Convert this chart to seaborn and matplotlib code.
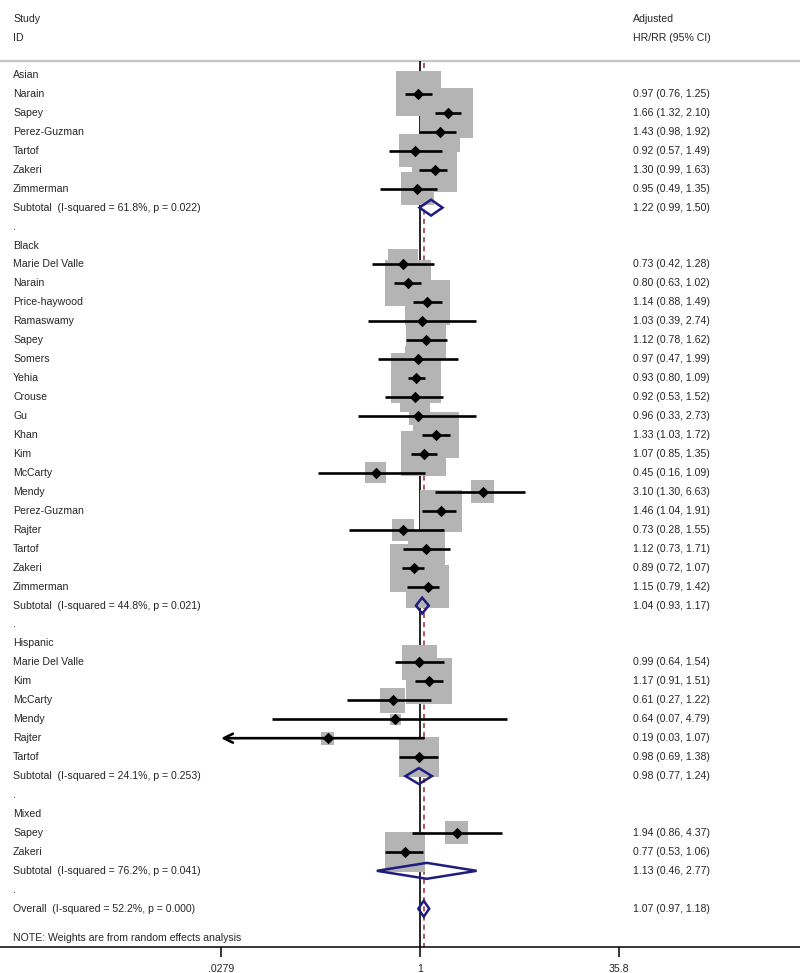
import numpy as np
import pandas as pd
import matplotlib
matplotlib.use("Agg")
import matplotlib.pyplot as plt
import seaborn as sns
from matplotlib.transforms import blended_transform_factory
from matplotlib.ticker import NullLocator

# Данные: исследования по группам (HR/RR, 95% ДИ, вес в %)
groups = ["Asian", "Black", "Hispanic", "Mixed"]
study = ["Narain", "Sapey", "Perez-Guzman", "Tartof", "Zakeri", "Zimmerman",
         "Marie Del Valle", "Narain", "Price-haywood", "Ramaswamy", "Sapey", "Somers",
         "Yehia", "Crouse", "Gu", "Khan", "Kim", "McCarty", "Mendy", "Perez-Guzman",
         "Rajter", "Tartof", "Zakeri", "Zimmerman",
         "Marie Del Valle", "Kim", "McCarty", "Mendy", "Rajter", "Tartof",
         "Sapey", "Zakeri"]
group = ["Asian"] * 6 + ["Black"] * 18 + ["Hispanic"] * 6 + ["Mixed"] * 2
hr = [0.97, 1.66, 1.43, 0.92, 1.30, 0.95,
      0.73, 0.80, 1.14, 1.03, 1.12, 0.97, 0.93, 0.92, 0.96, 1.33, 1.07, 0.45, 3.10,
      1.46, 0.73, 1.12, 0.89, 1.15,
      0.99, 1.17, 0.61, 0.64, 0.19, 0.98,
      1.94, 0.77]
lo = [0.76, 1.32, 0.98, 0.57, 0.99, 0.49,
      0.42, 0.63, 0.88, 0.39, 0.78, 0.47, 0.80, 0.53, 0.33, 1.03, 0.85, 0.16, 1.30,
      1.04, 0.28, 0.73, 0.72, 0.79,
      0.64, 0.91, 0.27, 0.07, 0.027, 0.69,
      0.86, 0.53]
hi = [1.25, 2.10, 1.92, 1.49, 1.63, 1.35,
      1.28, 1.02, 1.49, 2.74, 1.62, 1.99, 1.09, 1.52, 2.73, 1.72, 1.35, 1.09, 6.63,
      1.91, 1.55, 1.71, 1.07, 1.42,
      1.54, 1.51, 1.22, 4.79, 1.07, 1.38,
      4.37, 1.06]
weight = [4.77, 5.89, 3.77, 2.56, 4.77, 2.56,
          2.12, 4.98, 4.77, 0.76, 3.77, 1.6, 5.89, 2.12, 0.68, 4.98, 4.77, 1.04, 1.25,
          4.15, 1.14, 3.22, 5.42, 4.35,
          2.88, 4.98, 1.47, 0.28, 0.40, 3.77,
          1.25, 3.77]

# Подытоги по группам
sub_hr = [1.22, 1.04, 0.98, 1.13]
sub_lo = [0.99, 0.93, 0.77, 0.46]
sub_hi = [1.50, 1.17, 1.24, 2.77]
sub_i2 = [61.8, 44.8, 24.1, 76.2]
sub_p = [0.022, 0.021, 0.253, 0.041]

overall_hr, overall_lo, overall_hi = 1.07, 0.97, 1.18
overall_i2, overall_p = 52.2, 0.000

xticks = [0.0279, 1, 35.8]
xtick_labels = [".0279", "1", "35.8"]

# Раскладываем строки сверху вниз
df = pd.DataFrame({"study": study, "group": group, "hr": hr, "lo": lo, "hi": hi, "weight": weight})
left_text = []   # (строка, текст)
right_text = []
df["row"] = 0.0
sub_rows = []
r = 0
for g_i, g in enumerate(groups):
    left_text.append((r, g))
    r += 1
    for idx in df.index[df["group"] == g]:
        df.loc[idx, "row"] = r
        left_text.append((r, df.loc[idx, "study"]))
        right_text.append((r, "%.2f (%.2f, %.2f)" % (df.loc[idx, "hr"], df.loc[idx, "lo"], df.loc[idx, "hi"])))
        r += 1
    sub_rows.append(r)
    left_text.append((r, "Subtotal  (I-squared = %.1f%%, p = %.3f)" % (sub_i2[g_i], sub_p[g_i])))
    right_text.append((r, "%.2f (%.2f, %.2f)" % (sub_hr[g_i], sub_lo[g_i], sub_hi[g_i])))
    r += 1
    left_text.append((r, "."))
    r += 1
overall_row = r
left_text.append((r, "Overall  (I-squared = %.1f%%, p = %.3f)" % (overall_i2, overall_p)))
right_text.append((r, "%.2f (%.2f, %.2f)" % (overall_hr, overall_lo, overall_hi)))
note_row = r + 1.55

sns.set_theme(style="white")
plt.rcParams["font.family"] = ["Liberation Sans", "DejaVu Sans"]
fs = 7.6

fig = plt.figure(figsize=(8, 9.73), dpi=100)
ax = fig.add_axes([0, 26 / 973, 1, 947 / 973])
ax.set_xscale("log")
ax.set_xlim(10 ** (-420 / 128), 10 ** (380 / 128))
ax.set_ylim(46.02, -3.958)
xmin_plot = xticks[0]

# Линии: серая сверху, вертикаль на 1 и пунктир общего эффекта
top_y = -0.74
ax.axhline(top_y, color="#c4c4c4", lw=1.6, zorder=1)
ax.vlines(1, top_y, 46.02, color="black", lw=1.2, zorder=1)
ax.vlines(overall_hr, top_y + 0.1, 46.02, color="#a33a45", lw=1.2,
          linestyles=(0, (3, 2.5)), zorder=1)

# Квадраты весов
wmin, wmax = df["weight"].min(), df["weight"].max()
k = 220
sns.scatterplot(data=df, x="hr", y="row", size="weight", sizes=(k * wmin, k * wmax),
                size_norm=(wmin, wmax), marker="s", color="#b4b4b4", linewidth=0,
                legend=False, ax=ax, zorder=2)

# Доверительные интервалы
for _, d in df.iterrows():
    if d["lo"] < xmin_plot:
        ax.annotate("", xy=(xmin_plot, d["row"]), xytext=(d["hi"], d["row"]),
                    arrowprops=dict(arrowstyle="->", lw=1.9, color="black",
                                    shrinkA=0, shrinkB=0, mutation_scale=16),
                    zorder=3)
    else:
        ax.hlines(d["row"], d["lo"], d["hi"], color="black", lw=1.9, zorder=3)

sns.scatterplot(data=df, x="hr", y="row", marker="D", color="black", s=34,
                linewidth=0, legend=False, ax=ax, zorder=4)

# Ромбы подытогов и общего эффекта
h = 0.42
navy = "#1d1d7e"
for sr, e, l, u in zip(sub_rows + [overall_row], sub_hr + [overall_hr],
                       sub_lo + [overall_lo], sub_hi + [overall_hi]):
    ax.fill([l, e, u, e], [sr, sr - h, sr, sr + h], facecolor="none",
            edgecolor=navy, lw=1.8, zorder=5, joinstyle="miter")

# Текст
tr = blended_transform_factory(ax.transAxes, ax.transData)
x_left, x_right = 13 / 800, 633 / 800
ax.text(x_left, -2.95, "Study", transform=tr, fontsize=fs, va="center")
ax.text(x_left, -1.95, "ID", transform=tr, fontsize=fs, va="center")
ax.text(x_right, -2.95, "Adjusted", transform=tr, fontsize=fs, va="center")
ax.text(x_right, -1.95, "HR/RR (95% CI)", transform=tr, fontsize=fs, va="center")
for rr, t in left_text:
    ax.text(x_left, rr, t, transform=tr, fontsize=fs, va="center")
for rr, t in right_text:
    ax.text(x_right, rr, t, transform=tr, fontsize=fs, va="center")
ax.text(x_left, note_row, "NOTE: Weights are from random effects analysis",
        transform=tr, fontsize=fs, va="center")

# Оси
for s in ["top", "left", "right"]:
    ax.spines[s].set_visible(False)
ax.spines["bottom"].set_color("black")
ax.spines["bottom"].set_linewidth(1.1)
ax.set_xticks(xticks)
ax.set_xticklabels(xtick_labels)
ax.xaxis.set_minor_locator(NullLocator())
ax.set_yticks([])
ax.tick_params(axis="x", direction="out", length=7.2, width=1.1, color="black",
               labelsize=fs, pad=5, bottom=True)
ax.set_xlabel("")
ax.set_ylabel("")
ax.grid(False)

fig.savefig("out.png", dpi=100)
